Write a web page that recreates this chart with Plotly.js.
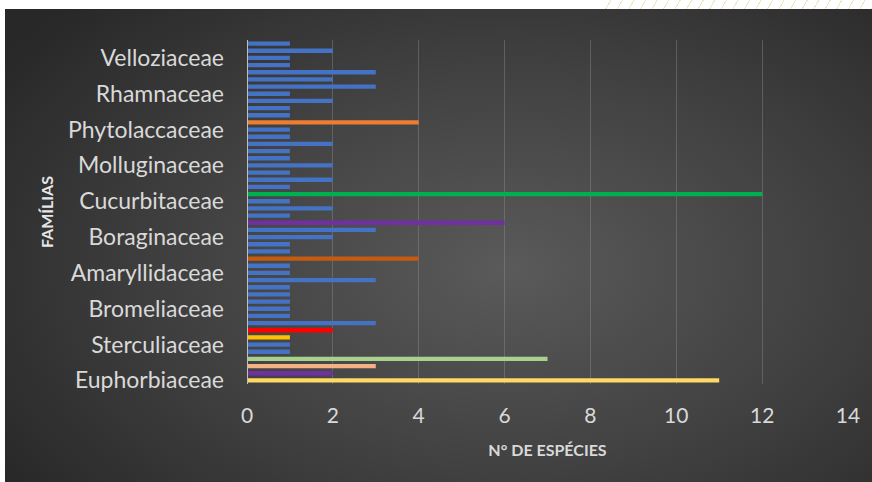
<!DOCTYPE html>
<html>
<head>
<meta charset="utf-8">
<script src="https://cdn.plot.ly/plotly-3.0.1.min.js"></script>
<style>
  html, body { margin: 0; padding: 0; background: #ffffff; width: 872px; height: 482px; overflow: hidden; position: relative; }
  #deco { position: absolute; left: 600px; top: 0; width: 272px; height: 9px;
    background: repeating-linear-gradient(120deg, rgba(0,0,0,0) 0px, rgba(0,0,0,0) 9px, rgba(215,195,120,0.45) 9px, rgba(215,195,120,0.45) 10px); }
  #chart { position: absolute; left: 5px; top: 9px; width: 867px; height: 473px;
    background: radial-gradient(ellipse 70% 80% at 58% 55%, #5a5a5a 0%, #404040 55%, #282828 100%); }
</style>
</head>
<body>
<div id="deco"></div>
<div id="chart"></div>
<script>
// Families, bottom to top (only every fifth name is labelled in the reference)
const families = [
  "Euphorbiaceae", "Malvaceae", "Convolvulaceae", "Fabaceae", "Acanthaceae",
  "Sterculiaceae", "Loranthaceae", "Bignoniaceae", "Myrtaceae", "Annonaceae",
  "Bromeliaceae", "Amaranthaceae", "Orchidaceae", "Piperaceae", "Sapotaceae",
  "Amaryllidaceae", "Anacardiaceae", "Apocynaceae", "Araceae", "Asteraceae",
  "Boraginaceae", "Burseraceae", "Cactaceae", "Capparaceae", "Commelinaceae",
  "Cucurbitaceae", "Cyperaceae", "Dioscoreaceae", "Erythroxylaceae", "Lamiaceae",
  "Molluginaceae", "Nyctaginaceae", "Olacaceae", "Passifloraceae", "Phyllanthaceae",
  "Phytolaccaceae", "Plantaginaceae", "Poaceae", "Polygalaceae", "Portulacaceae",
  "Rhamnaceae", "Rubiaceae", "Sapindaceae", "Solanaceae", "Turneraceae",
  "Velloziaceae", "Verbenaceae", "Vitaceae"
];
// Number of species per family
const species = [
  11, 2, 3, 7, 1,
  1, 1, 2, 3, 1,
  1, 1, 1, 1, 3,
  1, 1, 4, 1, 1,
  2, 3, 6, 1, 2,
  1, 12, 1, 2, 1,
  2, 1, 1, 2, 1,
  1, 4, 1, 1, 2,
  1, 3, 2, 3, 1,
  1, 2, 1
];
const barColors = [
  "#FFD966", "#7030A0", "#F4B183", "#A9D18E", "#4472C4",
  "#4472C4", "#FFC000", "#FF0000", "#4472C4", "#4472C4",
  "#4472C4", "#4472C4", "#4472C4", "#4472C4", "#4472C4",
  "#4472C4", "#4472C4", "#C55A11", "#4472C4", "#4472C4",
  "#4472C4", "#4472C4", "#7030A0", "#4472C4", "#4472C4",
  "#4472C4", "#00B050", "#4472C4", "#4472C4", "#4472C4",
  "#4472C4", "#4472C4", "#4472C4", "#4472C4", "#4472C4",
  "#4472C4", "#ED7D31", "#4472C4", "#4472C4", "#4472C4",
  "#4472C4", "#4472C4", "#4472C4", "#4472C4", "#4472C4",
  "#4472C4", "#4472C4", "#4472C4"
];
const shownLabels = ["Euphorbiaceae", "Sterculiaceae", "Bromeliaceae", "Amaryllidaceae",
  "Boraginaceae", "Cucurbitaceae", "Molluginaceae", "Phytolaccaceae", "Rhamnaceae", "Velloziaceae"];
const xTicks = [0, 2, 4, 6, 8, 10, 12, 14];

const trace = {
  type: "bar",
  orientation: "h",
  y: families,
  x: species,
  marker: { color: barColors, line: { width: 0 } },
  hoverinfo: "x+y"
};

const layout = {
  width: 867,
  height: 473,
  paper_bgcolor: "rgba(0,0,0,0)",
  plot_bgcolor: "rgba(0,0,0,0)",
  margin: { l: 242, r: 24, t: 31, b: 98 },
  bargap: 0.4,
  showlegend: false,
  font: { family: "Lato, 'Open Sans', sans-serif", color: "#d9d9d9" },
  xaxis: {
    range: [0, 14],
    tickvals: xTicks,
    ticktext: xTicks.map(String),
    showgrid: true,
    gridcolor: "rgba(150,150,150,0.38)",
    gridwidth: 1,
    zeroline: false,
    showline: false,
    ticks: "",
    ticklabelstandoff: 17,
    tickfont: { size: 21, color: "#d9d9d9", family: "Lato, sans-serif" },
    title: { text: "N° DE ESPÉCIES", font: { size: 16, color: "#d9d9d9", family: "Lato, sans-serif", weight: "bold" }, standoff: 18 },
    fixedrange: true
  },
  yaxis: {
    type: "category",
    categoryorder: "array",
    categoryarray: families,
    tickvals: shownLabels,
    ticktext: shownLabels,
    showgrid: false,
    zeroline: false,
    showline: false,
    ticks: "",
    ticklabelstandoff: 22,
    tickfont: { size: 23, color: "#d9d9d9", family: "Lato, sans-serif" },
    title: { text: "FAMÍLIAS", font: { size: 16, color: "#e6e6e6", family: "Lato, sans-serif", weight: "bold" }, standoff: 10 },
    fixedrange: true
  },
  shapes: [
    { type: "line", xref: "x", yref: "paper", x0: 0, x1: 0, y0: 0, y1: 1,
      line: { color: "#bfbfbf", width: 2 } }
  ]
};

Plotly.newPlot("chart", [trace], layout, { displayModeBar: false, staticPlot: true });
</script>
</body>
</html>
